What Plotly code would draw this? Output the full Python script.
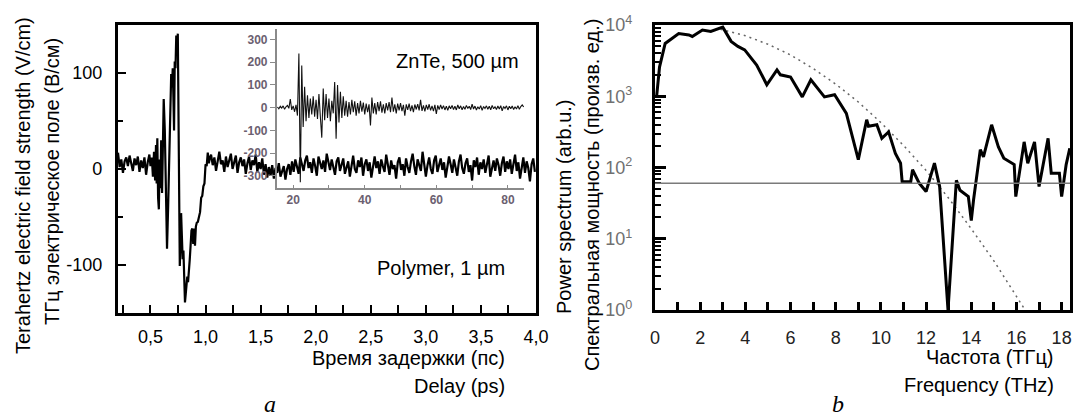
import numpy as np
import plotly.graph_objects as go

W, H = 1075, 419

# ---------------- Panel a: polymer THz waveform (delay in ps, field in V/cm) ----------------
PRE_T0, PRE_DT = 0.205, 0.015
pre_field = [17, 2, 10, -4, 8, 12, 3, 14, 6, -2, 11, 4, 13, -3, 9, 1, 12, -6, 7, 15]

pulse_delay = [0.500, 0.512, 0.522, 0.532, 0.542, 0.550, 0.556, 0.562, 0.569, 0.576,
               0.583, 0.590, 0.597, 0.605, 0.612, 0.620, 0.630, 0.640, 0.650, 0.660,
               0.670, 0.680, 0.688, 0.695, 0.702, 0.708, 0.714, 0.720, 0.727, 0.734,
               0.741, 0.748, 0.755, 0.760, 0.766, 0.772, 0.778, 0.785, 0.792, 0.799,
               0.806, 0.813, 0.820, 0.827, 0.834, 0.841, 0.848, 0.856, 0.864, 0.872,
               0.880, 0.888, 0.896, 0.904, 0.912, 0.920, 0.930, 0.940, 0.950, 0.960,
               0.970, 0.980, 0.990, 1.000, 1.010, 1.020, 1.030, 1.040]
pulse_field = [3, 12, -8, 18, -12, 25, -15, 32, -30, -42,
               10, -20, 30, -25, 20, 73, 40, -30, -83, -40,
               10, 60, 99, 85, 105, 75, 40, 112, 105, 139,
               120, 141, 60, -30, -101, -80, -46, -70, -94, -85,
               -120, -139, -130, -122, -112, -118, -100, -95, -80, -64,
               -62, -78, -62, -80, -60, -56, -55, -50, -45, -30,
               -28, -18, -15, 5, 3, 17, 6, 12]

POST_T0, POST_DT = 1.05, 0.015
post_field = [15, 4, 12, -2, 10, 18, 5, 9, -3, 13, 2, 11, 16, 0, 8, 14, -4, 7, 12, 3,
              10, -5, 6, 13, -1, 9, 4, 15, -3, 7, 0, 11, -6, 5, -9, 2, -7, 4, -10, 1,
              -4, 6, -8, -2, 3, -11, 0, 5, -6, 8, -3, 10, 2, -5, 12, 4, -2, 9, 14, 1,
              7, -4, 11, 3, -7, 13, 5, 0, 9, -3, 16, 6, -1, 10, 2, -6, 8, 12, -2, 4,
              11, -5, 3, 8, -8, 6, 14, 0, -4, 9, 2, 12, -7, 5, 10, -2, 7, -9, 4, 13,
              1, 8, -5, 10, 3, -3, 15, 6, -6, 9, 0, 4, -10, 7, 12, -1, 5, -7, 11, 2,
              -4, 8, 16, 3, -6, 10, 5, -2, 18, 7, -8, 4, 12, 0, -5, 9, 14, -3, 6, 11,
              -1, 7, -9, 3, 13, 5, -4, 10, 2, -7, 8, 15, 1, -5, 6, 11, -3, 4, -12, 9,
              2, 12, -6, 7, 0, 10, -4, 5, 14, -8, 3, 9, -2, 11, 4, -7, 6, 13, -3, 8,
              0, 10, -5, 4, 15, -2, 7, -10, 3, 12, -4, 8, 1, -13, 5, 11, -3]

# ---------------- Inset: ZnTe 500 um waveform ----------------
INSET_T0, INSET_DT = 15.6, 0.4
inset_field = [3, -5, 6, -2, 8, -7, 4, 10, -3, 38,
               -10, 8, -18, 12, -35, 238, -328, 186, -85, 92,
               -60, 55, -45, 40, -30, 50, -40, 35, -50, 60,
               -40, -132, 84, -55, 60, -45, 40, -60, 30, -25,
               113, -137, 100, -65, 70, -45, 50, -35, 30, -40,
               25, -30, 35, -20, 28, -35, 20, -25, 30, -18,
               22, -30, 18, -20, 15, -78, 45, -25, 20, -30,
               25, -15, 28, -22, 15, -25, 20, -12, 25, -20,
               45, -18, 15, -25, 18, -12, 20, -15, 12, -35,
               15, -10, 18, -15, 10, -20, 14, -8, 16, -12,
               35, -14, 10, -16, 12, -8, 15, -12, 8, -15,
               12, -28, 10, -8, 12, -6, 9, -10, 7, -12,
               8, -5, 10, -8, 6, -10, 12, -5, 8, -9,
               5, -7, 10, -4, 6, -8, 15, -6, 7, -10,
               4, -6, 9, -12, 5, -4, 8, -7, 6, -9,
               10, -5, 4, -8, 7, -6, 9, -14, 5, -4,
               8, -10, 6, -5, 7, -8, 4, -6, 9, -7,
               5, 12, 3]

# ---------------- Panel b: power spectrum ----------------
freq = [0.07, 0.2, 0.45, 0.67, 1.05, 1.5, 1.65, 2.1, 2.47, 3.0,
        3.37, 3.67, 3.97, 4.5, 4.95, 5.4, 5.55, 6.0, 6.52, 6.9,
        7.5, 7.95, 8.47, 9.0, 9.37, 9.45, 9.82, 10.04, 10.34, 10.64,
        10.87, 10.94, 11.32, 11.4, 11.7, 12.0, 12.14, 12.37, 12.6, 12.97,
        13.34, 13.5, 13.87, 14.0, 14.1, 14.4, 14.54, 14.9, 15.2, 15.44,
        15.9, 15.97, 16.34, 16.5, 16.8, 17.0, 17.4, 17.54, 17.9, 18.0,
        18.2, 18.36]
power = [980, 2570, 5500, 6170, 7590, 7240, 6900, 8500, 8130, 9330,
         5890, 5010, 4470, 2750, 1450, 2340, 2000, 1860, 980, 1700,
         980, 1050, 575, 129, 468, 380, 398, 257, 316, 158,
         115, 63, 63, 93, 60, 46, 66, 115, 54, 1.0,
         66, 48, 39, 18, 35, 178, 141, 398, 195, 135,
         110, 39, 229, 115, 229, 54, 257, 83, 83, 39,
         110, 186]

fit_freq = [2.9, 3.5, 4, 5, 6, 7, 8, 9, 10, 11, 12, 13, 14, 15, 16, 16.4]
fit_power = [8700, 7760, 7080, 5370, 3800, 2450, 1480, 830, 427, 204, 91, 37, 13.8, 4.9, 1.58, 0.98]

NOISE_FLOOR = 60

# tick labels
a_xticks = [0.5, 1.0, 1.5, 2.0, 2.5, 3.0, 3.5, 4.0]
a_xlabels = ["0,5", "1,0", "1,5", "2,0", "2,5", "3,0", "3,5", "4,0"]
a_xminor = [0.25, 0.75, 1.25, 1.75, 2.25, 2.75, 3.25, 3.75]
a_yticks = [-100, 0, 100]
a_ylabels = ["-100", "0", "100"]
a_yminor = [-50, 50]
in_xticks = [20, 40, 60, 80]
in_xminor = [30, 50, 70]
in_yticks = [-300, -200, -100, 0, 100, 200, 300]
in_ylabels = ["-300", "-200", "-100", "0", "100", "200", "300"]
b_xticks = [0, 2, 4, 6, 8, 10, 12, 14, 16, 18]
b_xminor = [1, 3, 5, 7, 9, 11, 13, 15, 17]
b_yticks = [1, 10, 100, 1000, 10000]
b_ylabels = ["10<sup>0</sup>", "10<sup>1</sup>", "10<sup>2</sup>", "10<sup>3</sup>", "10<sup>4</sup>"]
b_yminor = [k * 10 ** d for d in range(4) for k in range(2, 10)]

# ------------------------------------------------------------------
delay = np.concatenate([PRE_T0 + PRE_DT * np.arange(len(pre_field)),
                        np.array(pulse_delay),
                        POST_T0 + POST_DT * np.arange(len(post_field))])
field = np.concatenate([pre_field, pulse_field, post_field])
inset_t = INSET_T0 + INSET_DT * np.arange(len(inset_field))

FONT = "Liberation Sans, Arial, sans-serif"
SERIF = "Liberation Serif, Times New Roman, serif"

fig = go.Figure()
fig.add_trace(go.Scatter(x=delay, y=field, mode="lines", xaxis="x", yaxis="y",
                         line=dict(color="black", width=2.2), showlegend=False))
fig.add_trace(go.Scatter(x=inset_t, y=inset_field, mode="lines", xaxis="x3", yaxis="y3",
                         line=dict(color="#111111", width=1.1), showlegend=False))
fig.add_trace(go.Scatter(x=fit_freq, y=fit_power, mode="lines", xaxis="x2", yaxis="y2",
                         line=dict(color="#666666", width=1.5, dash="2px,4px"), showlegend=False))
fig.add_trace(go.Scatter(x=freq, y=power, mode="lines", xaxis="x2", yaxis="y2",
                         line=dict(color="black", width=3), showlegend=False))

frame = dict(showline=True, linecolor="black", linewidth=3.2, mirror=True,
             showgrid=False, zeroline=False)

fig.update_layout(
    width=W, height=H, autosize=False,
    margin=dict(l=0, r=0, t=0, b=0),
    paper_bgcolor="white", plot_bgcolor="rgba(0,0,0,0)",
    template="none",
    font=dict(family=FONT, color="black"),
    xaxis=dict(domain=[118 / W, 536 / W], anchor="y", range=[0.205, 4.0],
               tickmode="array", tickvals=a_xticks, ticktext=a_xlabels,
               ticks="inside", ticklen=8, tickwidth=2, tickcolor="black",
               ticklabelstandoff=5,
               minor=dict(tickmode="array", tickvals=a_xminor, ticks="inside",
                          ticklen=8, tickwidth=2, tickcolor="black"),
               tickfont=dict(size=18, family=FONT, color="black"), **frame),
    yaxis=dict(domain=[1 - 313 / H, 1 - 25 / H], anchor="x", range=[-150, 150],
               tickmode="array", tickvals=a_yticks, ticktext=a_ylabels,
               ticks="inside", ticklen=8, tickwidth=2, tickcolor="black",
               ticklabelstandoff=9,
               minor=dict(tickmode="array", tickvals=a_yminor, ticks="inside",
                          ticklen=5, tickwidth=2, tickcolor="black"),
               tickfont=dict(size=18, family=FONT, color="black"), **frame),
    xaxis2=dict(domain=[655 / W, 1070 / W], anchor="y2", range=[0, 18.37],
                tickmode="array", tickvals=b_xticks,
                ticks="inside", ticklen=8, tickwidth=2.5, tickcolor="black",
                ticklabelstandoff=9,
                minor=dict(tickmode="array", tickvals=b_xminor, ticks="inside",
                           ticklen=8, tickwidth=2.5, tickcolor="black"),
                tickfont=dict(size=18, family=FONT, color="#222222"), **frame),
    yaxis2=dict(domain=[1 - 310 / H, 1 - 25 / H], anchor="x2", type="log", range=[0, 4],
                tickmode="array", tickvals=b_yticks, ticktext=b_ylabels,
                ticks="inside", ticklen=11, tickwidth=2.5, tickcolor="black",
                ticklabelstandoff=16,
                minor=dict(tickmode="array", tickvals=b_yminor, ticks="inside",
                           ticklen=6, tickwidth=2, tickcolor="black"),
                tickfont=dict(size=18, family=FONT, color="#707070"), **frame),
    xaxis3=dict(domain=[276.7 / W, 524 / W], anchor="y3", range=[15.4, 84.5],
                showline=True, linecolor="#8a8a8a", linewidth=1.5, mirror=False,
                showgrid=False, zeroline=False,
                tickmode="array", tickvals=in_xticks,
                ticks="inside", ticklen=4, tickwidth=1, tickcolor="#8a8a8a",
                minor=dict(tickmode="array", tickvals=in_xminor, ticks="inside",
                           ticklen=4, tickwidth=1, tickcolor="#8a8a8a"),
                tickfont=dict(size=12, family="Liberation Sans, Arial", color="#6b6070",
                              weight="bold")),
    yaxis3=dict(domain=[1 - 188.3 / H, 1 - 29.3 / H], anchor="x3", range=[-355, 345],
                showline=True, linecolor="#8a8a8a", linewidth=1.5, mirror=False,
                showgrid=False, zeroline=False,
                tickmode="array", tickvals=in_yticks, ticktext=in_ylabels,
                ticks="outside", ticklen=5, tickwidth=1, tickcolor="#8a8a8a",
                tickfont=dict(size=12, family="Liberation Sans, Arial", color="#6b6070",
                              weight="bold")),
)

fig.add_shape(type="line", xref="x2 domain", x0=0, x1=1, yref="y2", y0=NOISE_FLOOR, y1=NOISE_FLOOR,
              line=dict(color="#7a7a7a", width=1.5))

def ann(text, x, y, size=20, angle=0, xanchor="center", family=FONT, italic=False):
    fig.add_annotation(text=text, x=x / W, y=1 - y / H, xref="paper", yref="paper",
                       showarrow=False, textangle=angle, xanchor=xanchor, yanchor="middle",
                       font=dict(size=size, family=family, color="black",
                                 style="italic" if italic else "normal"))

ann("Terahertz electric field strength (V/cm)", 23, 186, angle=-90)
ann("ТГц электрическое поле (В/см)", 52, 182, angle=-90)
ann("Время задержки (пс)", 507, 358, xanchor="right")
ann("Delay (ps)", 507, 386, xanchor="right")
ann("a", 270, 404, size=24, family=SERIF, italic=True)
ann("ZnTe, 500 µm", 521, 61, size=20, xanchor="right")
ann("Polymer, 1 µm", 507, 268, size=20, xanchor="right")
ann("Power spectrum (arb.u.)", 564, 207, angle=-90)
ann("Спектральная мощность (произв. ед.)", 592, 195, angle=-90)
ann("Частота (ТГц)", 1056, 357, xanchor="right")
ann("Frequency (THz)", 1056, 385, xanchor="right")
ann("b", 838, 404, size=24, family=SERIF, italic=True)

fig.write_html("out.html", config={"displayModeBar": False},
               post_script="document.body.style.margin='0px';document.body.style.overflow='hidden';")
